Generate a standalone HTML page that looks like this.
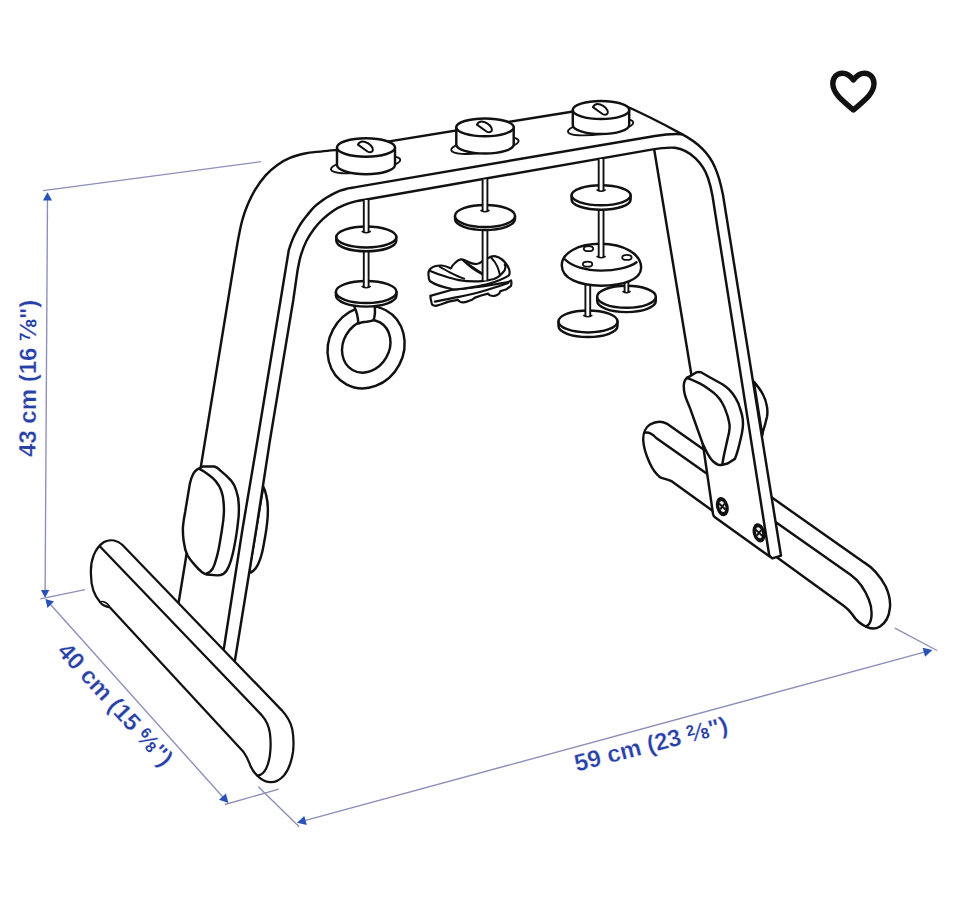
<!DOCTYPE html>
<html>
<head>
<meta charset="utf-8">
<title>LEKA baby gym – measurements</title>
<style>
html,body{margin:0;padding:0;background:#fff;}
body{width:960px;height:916px;overflow:hidden;font-family:"Liberation Sans",sans-serif;}
svg{display:block;position:absolute;left:0;top:0;}
.k{fill:none;stroke:#111;stroke-width:2.45;stroke-linecap:round;stroke-linejoin:round;}
.w{fill:#fff;stroke:#111;stroke-width:2.45;stroke-linecap:round;stroke-linejoin:round;}
.f{fill:#fff;stroke:none;}
.d{fill:none;stroke:#8b8eb8;stroke-width:1.35;stroke-linecap:butt;}
.a{fill:#2a52b6;stroke:none;}
.t{font-family:"Liberation Sans",sans-serif;font-weight:bold;font-size:24px;fill:#2740a6;stroke:#fff;stroke-width:0.3;}
</style>
</head>
<body>
<svg width="960" height="916" viewBox="0 0 960 916">
<rect x="0" y="0" width="960" height="916" fill="#fff"/>

<!-- ===== dimension lines ===== -->
<g id="dims">
<path class="d" d="M43,190.7 L261,161.7"/>
<path class="d" d="M47.5,197 L45.1,592"/>
<path class="d" d="M40.3,598.8 L85,589.6"/>
<path class="d" d="M48.5,602.3 L226,800.5"/>
<path class="d" d="M224.8,804.5 L278.8,789.2"/>
<path class="d" d="M258.3,786.7 L299.2,826.8"/>
<path class="d" d="M301,821.6 L928,651.2"/>
<path class="d" d="M894.9,628.1 L937.1,650.5"/>
<!-- arrow heads -->
<path class="a" d="M47.5,192.2 L52.1,200.4 L42.9,200.4 Z"/>
<path class="a" d="M45.1,597.8 L40.9,590 L49.3,590 Z"/>
<path class="a" d="M45.5,598.9 L54,601.6 L47.4,607.9 Z"/>
<path class="a" d="M228.4,803 L219,799.8 L225.9,793.5 Z"/>
<path class="a" d="M297,822.7 L304.3,816 L306.8,824.9 Z"/>
<path class="a" d="M932.4,650 L925.1,656.7 L922.6,647.8 Z"/>
</g>

<!-- ===== dimension text ===== -->
<g id="labels">
<text class="t" transform="translate(35.6,457) rotate(-89.66)">43 cm (16 <tspan font-size="15" dy="-6.4" style="stroke:none">7</tspan><tspan dy="6.4" dx="0.6">⁄</tspan><tspan font-size="15" dx="0.6" style="stroke:none">8</tspan>")</text>
<text class="t" text-anchor="middle" transform="translate(109.5,710) rotate(47.5)">40 cm (15 <tspan font-size="15" dy="-6.4" style="stroke:none">6</tspan><tspan dy="6.4" dx="0.6">⁄</tspan><tspan font-size="15" dx="0.6" style="stroke:none">8</tspan>")</text>
<text class="t" text-anchor="middle" transform="translate(653,752) rotate(-14.5)">59 cm (23 <tspan font-size="15" dy="-6.4" style="stroke:none">2</tspan><tspan dy="6.4" dx="0.6">⁄</tspan><tspan font-size="15" dx="0.6" style="stroke:none">8</tspan>")</text>
</g>

<!-- ===== heart icon ===== -->
<path id="heart" d="M853.4,80 C850.5,75.8 846.5,73.2 842.3,73.2 C836.8,73.2 832.8,77.6 832.8,83.6 C832.8,94.5 845,102.5 853.4,110 C861.8,102.5 874,94.5 874,83.6 C874,77.6 870,73.2 864.5,73.2 C860.3,73.2 856.3,75.8 853.4,80 Z" fill="none" stroke="#111" stroke-width="5.4" stroke-linejoin="round"/>

<!-- DRAWING -->
<g id="drawing">
<!-- right foot bar -->
<g id="rightfoot">
<path class="w" d="M666.7,423.6 L864.1,562.4 C872.5,567.5 880,576 885.7,586.5 C889.5,595 890.5,603 889.9,608 C889,617 885.5,623 880,626.5 C876,629 871,628.8 867.7,627.3 C860,624.5 856,620.5 852,614 C849,610 846.5,607.7 843.6,605.7 L672,481.4 C669,479.6 664,479 660.1,477.3 C655,473 652,468 649.7,462.9 C646,455 643.5,446 643.2,440 C643,433 646,427 650,424.5 C656,421 662,421 666.7,423.6 Z"/>
<path class="k" d="M644.4,432.8 C648,431.8 652,433.5 656.2,438 L850.9,575.1 C859,581 865,590 868.9,599.7 C871.5,606 872,612 871.3,617.7 C870.8,622 868.5,625.5 865.9,626.7"/>
</g>
<!-- pads on the far side of legs -->
<g id="backpads">
<g transform="translate(170,450) scale(0.15287)"><path class="w" style="stroke-width:16" d="M610,240 C620,258 626,278 630,300 C636,325 640,352 640,380 C641,415 639,448 635,480 C631,515 626,548 620,580 C614,615 608,650 600,680 C593,707 585,730 575,750 C566,768 556,781 545,790 C536,798 526,803 515,805 Z"/></g>
<g transform="translate(670,360) scale(0.131)"><path class="w" style="stroke-width:18.7" d="M640,165 C665,195 690,225 705,255 C722,285 735,320 740,355 C745,385 745,410 740,435 C732,470 722,510 710,545 L705,575 Z"/></g>
</g>
<!-- arch frame -->
<g id="frame">
<path class="f" d="M178.4,604 L234.6,260 C235.2,256.6 236.9,246.1 238.1,239.6 C239.3,233.1 240.5,226.9 242.0,221.2 C243.5,215.5 245.1,210.7 247.3,205.5 C249.5,200.3 252.0,194.8 255.1,189.8 C258.1,184.8 261.9,179.6 265.6,175.4 C269.3,171.2 273.2,167.9 277.4,164.9 C281.5,161.9 286.1,159.5 290.5,157.7 C294.9,155.8 299.2,154.8 303.6,153.8 C308.0,152.8 311.1,152.4 316.7,151.9 C322.3,151.3 333.6,150.3 337.0,149.9 L612,105.2 L619,103 Q650,116.5 681.4,133.9 C697,142 709,153 715,167.5 C719,176 721,185 723,195 L781,555.6 L772.3,558.4 L769.3,555.8 L713.8,515 L703.4,447.5 L654.4,150.7 L365,199.7 C363.4,200.0 358.9,200.5 355.5,201.4 C352.1,202.3 348.2,203.4 344.6,204.9 C341.0,206.4 337.3,208.0 333.7,210.4 C330.1,212.8 326.1,216.0 322.8,219.1 C319.5,222.2 316.7,225.3 314.0,229.0 C311.3,232.7 308.6,236.6 306.4,241.0 C304.2,245.4 302.4,250.4 300.9,255.2 C299.4,260.0 298.2,267.5 297.6,270.0 L293.3,300 L235,660 Z"/>
<!-- outer line : left leg, top back edge, right outer -->
<path class="k" d="M178.4,604 L234.6,260 C235.2,256.6 236.9,246.1 238.1,239.6 C239.3,233.1 240.5,226.9 242.0,221.2 C243.5,215.5 245.1,210.7 247.3,205.5 C249.5,200.3 252.0,194.8 255.1,189.8 C258.1,184.8 261.9,179.6 265.6,175.4 C269.3,171.2 273.2,167.9 277.4,164.9 C281.5,161.9 286.1,159.5 290.5,157.7 C294.9,155.8 299.2,154.8 303.6,153.8 C308.0,152.8 311.1,152.4 316.7,151.9 C322.3,151.3 333.6,150.3 337.0,149.9 L612,105.2"/>
<path class="k" d="M619,103 Q650,116.5 681.4,133.9 C697,142 709,153 715,167.5 C719,176 721,185 723,195 L781,555.6 L772.3,558.4 L769.3,555.8"/>
<!-- front outer edge -->
<path class="k" d="M223.8,648.8 L242.5,529 L257.5,440 L280.6,300 L288.8,250 C289.1,249.2 289.6,247.6 290.3,245.5 C291.1,243.4 292.2,240.1 293.3,237.7 C294.4,235.3 295.3,233.5 296.6,231.1 C297.9,228.7 299.1,226.2 300.9,223.5 C302.7,220.8 305.3,217.5 307.5,214.8 C309.7,212.1 311.8,209.3 314.0,207.1 C316.2,204.9 318.4,203.3 320.6,201.7 C322.8,200.1 324.9,198.7 327.1,197.3 C329.3,196.0 331.5,194.7 333.7,193.6 C335.9,192.5 338.0,191.5 340.2,190.7 C342.4,189.9 344.8,189.2 346.8,188.7 C348.8,188.2 349.8,188.2 352.0,187.8 C354.2,187.4 358.7,186.6 360.0,186.4 L655,136 C665,134.3 673,133.5 682,134.2"/>
<!-- front inner edge -->
<path class="k" d="M235,660 L256.3,529 L270,440 L293.3,300 L297.6,270 C298.2,267.5 299.4,260.0 300.9,255.2 C302.4,250.4 304.2,245.4 306.4,241.0 C308.6,236.6 311.3,232.7 314.0,229.0 C316.7,225.3 319.5,222.2 322.8,219.1 C326.1,216.0 330.1,212.8 333.7,210.4 C337.3,208.0 341.0,206.4 344.6,204.9 C348.2,203.4 352.1,202.3 355.5,201.4 C358.9,200.5 363.4,200.0 365.0,199.7 L650,149.9 C660,148.2 668,147 675,147.8 C690,150 703,163 708,178 C710,184 711.5,190 712.5,196 L769.3,555.8"/>
<!-- inside back edge of right leg -->
<path class="k" d="M654.4,150.7 L703.4,447.5"/>
</g>

<!-- bracket plate + screws -->
<g id="plate">
<path class="k" d="M703.4,447.5 L713.1,514.5 Q713.6,516.4 715.3,517.6 L769.3,556.2"/>
<g transform="translate(722.3,506.6) rotate(-14)"><ellipse cx="0" cy="0" rx="6.2" ry="9.8" fill="#111"/><ellipse cx="0" cy="0" rx="2.9" ry="5.6" fill="#f2f2f2"/><path d="M-2.4,-3.8 L2.4,3.8 M2.8,-2.2 L-2.8,2.2" fill="none" stroke="#111" stroke-width="1.9"/></g>
<g transform="translate(759,532.8) rotate(-14)"><ellipse cx="0" cy="0" rx="6.2" ry="9.8" fill="#111"/><ellipse cx="0" cy="0" rx="2.9" ry="5.6" fill="#f2f2f2"/><path d="M-2.4,-3.8 L2.4,3.8 M2.8,-2.2 L-2.8,2.2" fill="none" stroke="#111" stroke-width="1.9"/></g>
</g>
<!-- pads on the near side of legs -->
<g id="frontpads">
<g transform="translate(170,450) scale(0.15287)">
<path class="w" style="stroke-width:16" d="M130,220 C136,195 142,175 150,160 C160,140 175,125 195,118 L215,108 L290,108 C305,112 318,122 330,135 C355,155 380,178 400,200 C418,222 428,245 435,270 C445,300 450,330 450,360 C452,400 450,435 445,470 C441,510 436,545 430,580 C424,615 418,650 410,680 C403,710 395,738 385,760 C376,782 365,800 350,810 C338,817 325,820 310,820 L240,815 C228,812 218,806 210,800 C192,785 175,768 160,750 C142,730 126,710 115,690 C102,665 94,635 90,600 C85,565 83,530 85,500 C88,465 94,430 100,400 Z"/>
<path class="k" style="stroke-width:16" d="M195,125 C215,135 233,147 250,160 C270,174 287,188 300,205 C316,224 328,244 335,265 C344,290 349,315 350,340 C353,370 354,395 352,420 C350,455 345,490 340,520 C334,560 327,600 320,640 C314,670 308,697 300,720 C294,742 288,760 280,775 C270,792 258,803 240,808"/>
</g>
<g transform="translate(670,360) scale(0.131)">
<path class="w" style="stroke-width:18.7" d="M105,200 C105,175 115,150 130,135 L150,125 L200,95 C212,90 228,90 240,95 L300,130 L400,185 C420,198 437,212 450,225 C470,245 487,268 500,290 C515,315 527,342 535,370 C545,398 552,425 555,450 C558,475 558,498 555,520 C552,548 546,575 540,600 C534,628 527,655 520,680 C512,708 504,735 495,755 L440,790 L400,800 C390,803 380,803 370,800 C355,795 342,786 330,775 C315,760 302,742 290,720 C275,695 262,668 250,640 L200,500 L150,360 C135,325 123,297 115,270 C108,245 105,222 105,200 Z"/>
<path class="k" style="stroke-width:18.7" d="M135,140 C170,150 200,165 230,180 C255,193 278,208 300,225 C322,240 342,256 360,275 C378,293 390,311 400,330 C413,353 423,377 430,400 C440,425 447,448 450,470 C455,490 456,505 455,520 C453,548 447,575 440,600 C433,630 427,660 420,690 C413,720 407,752 400,792"/>
</g>
</g>
<!-- left foot bar -->
<g id="leftfoot" style="stroke-width:2.25">
<path class="w" style="stroke-width:2.25" d="M122.5,545 L281.6,710.1 C287,716 291,723 292.3,729.5 C293.5,736 293.8,745 293,752 C291.5,762 288.5,770 284,775.5 C279,781 274,782.5 269.8,782.2 C265,781.8 260.5,779 257.4,775.7 C254.5,773 252,769.5 250.5,766 C248.5,760.5 246.5,756 243.6,752.1 L110,607.5 C104,606 101,604 100,602 C93,594 91,585 91,575 C90,560 95,548 104,542 C111,538.5 118,541 122.5,545 Z"/>
<path class="k" style="stroke-width:2.25" d="M100,546.5 L261.9,715.4 C266.5,720.5 269,726.5 269.9,733 C270.8,740 270.8,749 269.8,756 C268.5,764 266.5,769.5 263,773 C261,775 259,775.5 257.4,775.6"/>
<path class="k" style="stroke-width:1.6" d="M100,602 C103,600.5 107,602.5 109.5,606.5"/>
</g>
<!-- knobs on top of beam -->
<g id="knobs">
<ellipse class="w" style="stroke-width:1.9" cx="365.6" cy="164.6" rx="35" ry="7.4" transform="rotate(-8 365.6 164.6)"/><path class="w" d="M337.0,147.5 L337.0,165.0 A29,9.2 0 0 0 395.0,165.0 L395.0,147.5 Z"/><ellipse class="w" cx="366" cy="147.5" rx="29" ry="9.2"/><path class="w" style="stroke-width:2" transform="translate(366,147.5)" d="M-8.1,-2.9 C-7,-5 -5.5,-6 -3.5,-6 C0,-6 5,-3 6.5,0.5 C7.5,3 6.5,4.8 4,4.8 C3,4.8 2.5,4.6 1.5,4 Z"/>
<ellipse class="w" style="stroke-width:1.9" cx="484.9" cy="145.4" rx="34" ry="7.3" transform="rotate(-8 484.9 145.4)"/><path class="w" d="M456.3,127.3 L456.3,144.6 A28.7,8.9 0 0 0 513.7,144.6 L513.7,127.3 Z"/><ellipse class="w" cx="485" cy="127.3" rx="28.7" ry="8.9"/><path class="w" style="stroke-width:2" transform="translate(485,127.5)" d="M-8.1,-2.9 C-7,-5 -5.5,-6 -3.5,-6 C0,-6 5,-3 6.5,0.5 C7.5,3 6.5,4.8 4,4.8 C3,4.8 2.5,4.6 1.5,4 Z"/>
<ellipse class="w" style="stroke-width:1.9" cx="600.6" cy="127" rx="33" ry="7.1" transform="rotate(-8 600.6 127)"/><path class="w" d="M572.8,110.0 L572.8,125.0 A28.2,9 0 0 0 629.2,125.0 L629.2,110.0 Z"/><ellipse class="w" cx="601" cy="110" rx="28.2" ry="9"/><path class="w" style="stroke-width:2" transform="translate(601,110)" d="M-8.1,-2.9 C-7,-5 -5.5,-6 -3.5,-6 C0,-6 5,-3 6.5,0.5 C7.5,3 6.5,4.8 4,4.8 C3,4.8 2.5,4.6 1.5,4 Z"/>
</g>

<!-- hanging toys -->
<g id="toys">
<g id="toy1">
<ellipse class="w" cx="366.1" cy="347.3" rx="37.5" ry="42" transform="rotate(28 366.1 347.3)"/>
<ellipse class="w" cx="366.25" cy="346.2" rx="23" ry="27.5" transform="rotate(30 366.25 346.2)"/>
<path class="f" d="M354,305 L358,316.8 L358.3,324.5 L365.4,322.4 L373.6,320.6 L375,314 L374.6,305 Z"/>
<path class="k" d="M354,306 C356,310 358,314 358.3,323.6 C361,322.4 364,321.9 366.5,321.8 C369.5,321.6 372,321 373.6,320 C375,316 375.3,311 374.6,306"/>
<path class="w" d="M335.9,292.0 L335.9,295.6 A30.3,11 0 0 0 396.5,295.6 L396.5,292.0 Z"/><ellipse class="w" cx="366.2" cy="292" rx="30.3" ry="11"/>
<rect class="f" x="363.8" y="251.0" width="4.8" height="35.5"/><path class="k" style="stroke-width:1.9" d="M363.8,251.0 L363.8,286.5 M368.6,251.0 L368.6,286.5"/><path class="k" style="stroke-width:1.6" d="M362.2,286.5 Q366.2,289.1 370.2,286.5"/>
<path class="w" d="M336.3,237.0 L336.3,240.8 A30,10.5 0 0 0 396.3,240.8 L396.3,237.0 Z"/><ellipse class="w" cx="366.3" cy="237" rx="30" ry="10.5"/>
<rect class="f" x="363.8" y="200.0" width="4.8" height="31.5"/><path class="k" style="stroke-width:1.9" d="M363.8,200 L363.8,231.5 M368.6,200 L368.6,231.5"/><path class="k" style="stroke-width:1.6" d="M362.2,231.5 Q366.2,234.1 370.2,231.5"/>
</g>
<g id="toy2">
<g transform="translate(420,230) scale(0.11459)" style="stroke-width:19">
<!-- lower ribbon -->
<path class="w" style="stroke-width:19" d="M90,575 L280,522 L560,490 L770,455 L795,440 C800,460 798,478 792,490 L755,517 L700,535 C697,548 692,556 685,560 C672,570 660,574 650,575 C635,577 620,574 610,570 C603,566 598,560 595,555 L540,570 L480,590 C465,602 450,612 430,618 C412,626 395,631 380,632 C365,632 353,628 345,622 L330,610 L250,625 L180,650 L140,662 C125,662 112,658 105,650 C97,625 92,600 90,575 Z"/>
<path class="k" style="stroke-width:19" d="M130,625 C200,610 270,595 340,583 C420,568 500,550 560,530 C620,512 690,492 770,462"/>
<!-- upper loop -->
<path class="w" style="stroke-width:19" d="M75,400 C70,370 75,350 95,335 C115,318 150,308 190,310 C220,312 245,325 270,335 C280,315 290,300 305,288 C320,272 335,260 355,257 C375,255 390,262 405,270 C430,283 460,297 495,297 C515,296 530,285 540,275 L595,245 C615,232 640,226 660,230 C700,238 740,275 765,315 C780,340 785,365 780,385 C778,392 775,396 770,400 C720,430 660,452 600,470 C540,488 480,495 420,505 C370,515 330,522 280,515 C200,500 120,470 85,445 C78,435 75,420 75,400 Z"/>
<path class="k" style="stroke-width:19" d="M95,360 C130,375 170,390 210,402 C260,418 300,430 340,437 C400,447 470,450 540,446 C580,443 615,436 645,428 C680,415 715,385 740,350 C748,335 748,315 740,300"/>
<path class="k" style="stroke-width:17" d="M170,320 C200,335 230,355 260,370 C300,390 340,410 385,425"/>
<path class="k" style="stroke-width:17" d="M372,260 C395,285 420,305 450,330 C480,352 510,370 540,385"/>
<path class="k" style="stroke-width:17" d="M402,283 C440,310 490,345 540,375"/>
<path class="k" style="stroke-width:17" d="M620,240 C645,265 665,295 675,320 C685,345 692,365 695,385"/>
</g>

<rect class="f" x="482.6" y="229.0" width="4.8" height="51.4"/><path class="k" style="stroke-width:1.9" d="M482.6,229.0 L482.6,280.4 M487.4,229.0 L487.4,280.4"/>
<path class="w" d="M455.0,216.0 L455.0,219.0 A30,11 0 0 0 515.0,219.0 L515.0,216.0 Z"/><ellipse class="w" cx="485" cy="216" rx="30" ry="11"/>
<rect class="f" x="482.6" y="179.4" width="4.8" height="31.1"/><path class="k" style="stroke-width:1.9" d="M482.6,179.4 L482.6,210.5 M487.4,179.4 L487.4,210.5"/><path class="k" style="stroke-width:1.6" d="M481.0,210.5 Q485.0,213.1 489.0,210.5"/>
</g>
<g id="toy3">
<path class="w" d="M597.2,296.8 L597.2,301.1 A29.3,11 0 0 0 655.8,301.1 L655.8,296.8 Z"/><ellipse class="w" cx="626.5" cy="296.8" rx="29.3" ry="11"/>
<rect class="f" x="624.6" y="281.0" width="3.8" height="10.5"/><path class="k" style="stroke-width:1.9" d="M624.6,281.0 L624.6,291.5 M628.4,281.0 L628.4,291.5"/><path class="k" style="stroke-width:1.6" d="M623.0,291.5 Q626.5,294.1 630.0,291.5"/>
<path class="w" d="M558.5,321.4 L558.5,326.0 A29.5,11 0 0 0 617.5,326.0 L617.5,321.4 Z"/><ellipse class="w" cx="588" cy="321.4" rx="29.5" ry="11"/>
<rect class="f" x="585.4" y="283.0" width="4.8" height="32.5"/><path class="k" style="stroke-width:1.9" d="M585.4,283.0 L585.4,315.5 M590.2,283.0 L590.2,315.5"/><path class="k" style="stroke-width:1.6" d="M583.8,315.5 Q587.8,318.1 591.8,315.5"/>
<path class="w" d="M561.8,265.4 C561.5,253 578,243.8 600.7,243.8 C623.5,243.8 641.5,254 641.1,268 C640.8,279.5 623.5,285.7 601.1,285.7 C579,285.7 562,278.5 561.8,265.4 Z"/>
<path class="k" d="M565.1,259.5 C572,266.5 586,270.6 600.7,270.6 C615.5,270.6 630,267.5 636.5,262.3"/>
<ellipse class="w" style="stroke-width:1.8" cx="588.5" cy="248.7" rx="4.7" ry="2.5"/><ellipse class="w" style="stroke-width:1.8" cx="626.9" cy="257.4" rx="4.7" ry="2.5"/><ellipse class="w" style="stroke-width:1.8" cx="587.6" cy="264.2" rx="4.7" ry="2.5"/>
<rect class="f" x="598.7" y="210.5" width="4.8" height="46.0"/><path class="k" style="stroke-width:1.9" d="M598.7,210.5 L598.7,256.5 M603.5,210.5 L603.5,256.5"/><path class="k" style="stroke-width:1.6" d="M597.1,256.5 Q601.1,259.1 605.1,256.5"/>
<path class="w" d="M571.6,195.3 L571.6,199.7 A29.5,10 0 0 0 630.6,199.7 L630.6,195.3 Z"/><ellipse class="w" cx="601.1" cy="195.3" rx="29.5" ry="10"/>
<rect class="f" x="598.7" y="159.0" width="4.8" height="31.0"/><path class="k" style="stroke-width:1.9" d="M598.7,159.0 L598.7,190.0 M603.5,159.0 L603.5,190.0"/><path class="k" style="stroke-width:1.6" d="M597.1,190.0 Q601.1,192.6 605.1,190.0"/>
</g>
</g>

</g>
</svg>
</body>
</html>
